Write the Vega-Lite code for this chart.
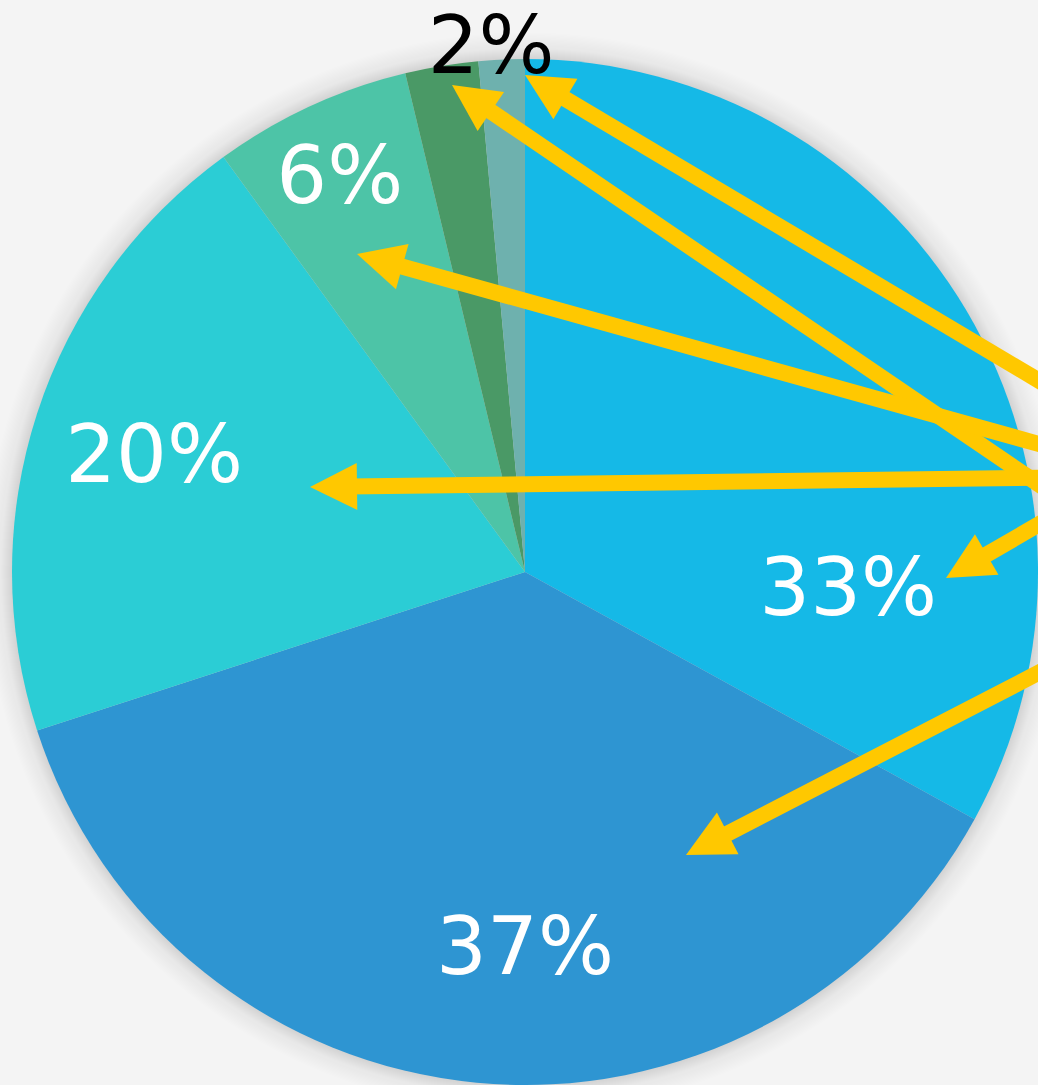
{
  "$schema": "https://vega.github.io/schema/vega-lite/v6.json",
  "width": 1038,
  "height": 1085,
  "autosize": {"type": "none"},
  "padding": 0,
  "background": "#f4f4f4",
  "config": {"view": {"stroke": null}},
  "datasets": {
    "pie": [
      {"k": 1, "name": "A", "value": 33},
      {"k": 2, "name": "B", "value": 37},
      {"k": 3, "name": "C", "value": 20},
      {"k": 4, "name": "D", "value": 6.25},
      {"k": 5, "name": "E", "value": 2.3},
      {"k": 6, "name": "F", "value": 1.45}
    ],
    "arrows": [
      {"id": 1, "x0": 1.1209, "y0": 0.3021, "xe": 0.0637, "ye": 0.931, "x": 0.0, "y": 0.9688, "dir": -59.25},
      {"id": 2, "x0": 1.1209, "y0": 0.0897, "xe": -0.0811, "ye": 0.9076, "x": -0.1423, "y": 0.9493, "dir": -55.76},
      {"id": 3, "x0": 1.1209, "y0": 0.2164, "xe": -0.2561, "ye": 0.6, "x": -0.3275, "y": 0.6199, "dir": -74.43},
      {"id": 4, "x0": 1.1209, "y0": 0.1852, "xe": -0.345, "ye": 0.1667, "x": -0.4191, "y": 0.1657, "dir": -90.73},
      {"id": 5, "x0": 1.1209, "y0": 0.1618, "xe": 0.8848, "ye": 0.0253, "x": 0.8207, "y": -0.0117, "dir": -120.03},
      {"id": 6, "x0": 1.1209, "y0": -0.1345, "xe": 0.3797, "ye": -0.5177, "x": 0.3138, "y": -0.5517, "dir": -117.33}
    ],
    "labels": [
      {"lab": "33%", "x": 0.63, "y": -0.084},
      {"lab": "37%", "x": 0.0, "y": -0.784},
      {"lab": "20%", "x": -0.723, "y": 0.175},
      {"lab": "6%", "x": -0.361, "y": 0.719},
      {"lab": "2%", "x": -0.066, "y": 0.973}
    ]
  },
  "layer": [
    {
      "data": {"name": "pie"},
      "mark": {
        "type": "arc",
        "outerRadius": 540,
        "theta": 0,
        "theta2": 6.2832,
        "color": {
          "gradient": "radial",
          "x1": 0.5, "y1": 0.5, "r1": 0,
          "x2": 0.5, "y2": 0.5, "r2": 0.5,
          "stops": [
            {"offset": 0, "color": "rgba(0,0,0,0.16)"},
            {"offset": 0.944, "color": "rgba(0,0,0,0.16)"},
            {"offset": 0.97, "color": "rgba(0,0,0,0.05)"},
            {"offset": 1, "color": "rgba(0,0,0,0)"}
          ]
        }
      },
      "transform": [{"filter": "datum.k == 1"}],
      "encoding": {
        "x": {"datum": 0, "type": "quantitative", "scale": {"domain": [-1.023392, 1.0], "nice": false, "zero": false}, "axis": null},
        "y": {"datum": 0, "type": "quantitative", "scale": {"domain": [-1.0, 1.11501], "nice": false, "zero": false}, "axis": null}
      }
    },
    {
      "data": {"name": "pie"},
      "mark": {"type": "arc", "outerRadius": 513, "stroke": null},
      "encoding": {
        "x": {"datum": 0, "type": "quantitative", "scale": {"domain": [-1.023392, 1.0], "nice": false, "zero": false}, "axis": null},
        "y": {"datum": 0, "type": "quantitative", "scale": {"domain": [-1.0, 1.11501], "nice": false, "zero": false}, "axis": null},
        "theta": {"field": "value", "type": "quantitative", "stack": true},
        "order": {"field": "k", "type": "quantitative"},
        "color": {
          "field": "name", "type": "nominal", "legend": null,
          "scale": {
            "domain": ["A", "B", "C", "D", "E", "F"],
            "range": ["#15B9E7", "#2E95D2", "#2BCDD5", "#4DC4A7", "#4A9966", "#6EB1AE"]
          }
        }
      }
    },
    {
      "data": {"name": "arrows"},
      "mark": {"type": "rule", "color": "#FFC800", "strokeWidth": 16, "strokeCap": "butt"},
      "encoding": {
        "x": {"field": "x0", "type": "quantitative", "scale": {"domain": [-1.023392, 1.0], "nice": false, "zero": false}, "axis": null},
        "y": {"field": "y0", "type": "quantitative", "scale": {"domain": [-1.0, 1.11501], "nice": false, "zero": false}, "axis": null},
        "x2": {"field": "xe"},
        "y2": {"field": "ye"}
      }
    },
    {
      "data": {"name": "arrows"},
      "mark": {"type": "point", "shape": "M0,0L1,2L-1,2Z", "filled": true, "size": 2209, "color": "#FFC800", "opacity": 1, "strokeWidth": 0},
      "encoding": {
        "x": {"field": "x", "type": "quantitative", "scale": {"domain": [-1.023392, 1.0], "nice": false, "zero": false}, "axis": null},
        "y": {"field": "y", "type": "quantitative", "scale": {"domain": [-1.0, 1.11501], "nice": false, "zero": false}, "axis": null},
        "angle": {"field": "dir", "type": "quantitative", "scale": null}
      }
    },
    {
      "data": {"name": "labels"},
      "mark": {"type": "text", "font": "DejaVu Sans", "fontSize": 80, "align": "center", "baseline": "alphabetic"},
      "encoding": {
        "x": {"field": "x", "type": "quantitative", "scale": {"domain": [-1.023392, 1.0], "nice": false, "zero": false}, "axis": null},
        "y": {"field": "y", "type": "quantitative", "scale": {"domain": [-1.0, 1.11501], "nice": false, "zero": false}, "axis": null},
        "text": {"field": "lab", "type": "nominal"},
        "color": {"condition": {"test": "datum.lab == '2%'", "value": "#000000"}, "value": "#ffffff"}
      }
    }
  ]
}
